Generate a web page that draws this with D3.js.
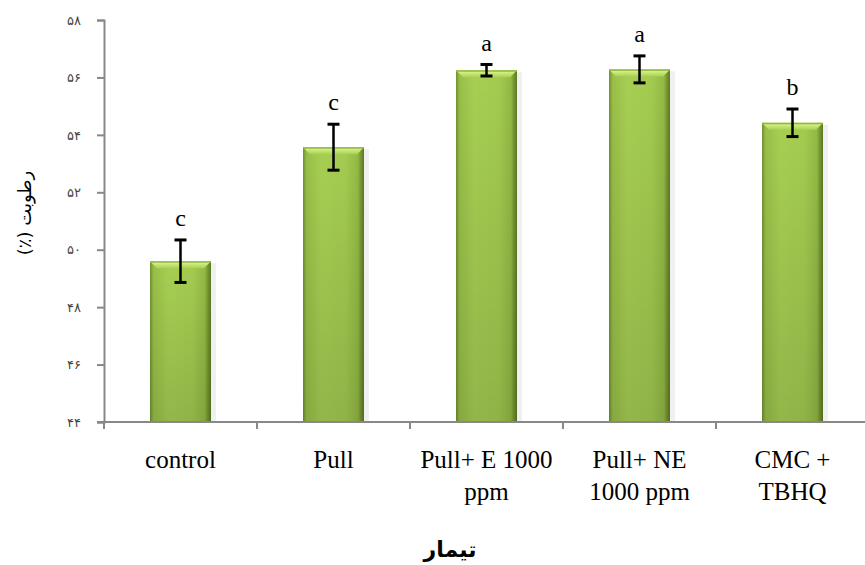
<!DOCTYPE html>
<html>
<head>
<meta charset="utf-8">
<script src="https://cdn.jsdelivr.net/npm/d3@7"></script>
<style>
  body { margin: 0; background: #fff; }
  svg { display: block; }
</style>
</head>
<body>
<div id="chart"></div>
<script>
const categories = ["control", "Pull", "Pull+ E 1000 ppm", "Pull+ NE 1000 ppm", "CMC + TBHQ"];
const labelLines = [["control"], ["Pull"], ["Pull+ E 1000", "ppm"], ["Pull+ NE", "1000 ppm"], ["CMC +", "TBHQ"]];
const means = [49.6, 53.57, 56.25, 56.28, 54.42];
const errors = [0.74, 0.8, 0.2, 0.47, 0.48];
const letters = ["c", "c", "a", "a", "b"];
const yTicks = [44, 46, 48, 50, 52, 54, 56, 58];

const width = 865;
const height = 565;
const margin = { top: 20, right: 0, bottom: 143, left: 104 };
const serif = "'Liberation Serif', 'Times New Roman', serif";

const toPersian = (n) => String(n).replace(/\d/g, (d) => "۰۱۲۳۴۵۶۷۸۹"[d]);

const svg = d3.select("#chart").append("svg").attr("width", width).attr("height", height);

const defs = svg.append("defs");
const side = defs.append("linearGradient").attr("id", "side").attr("x1", "0").attr("x2", "1").attr("y1", "0").attr("y2", "0");
[[0, "#6f9030"], [0.06, "#98bf48"], [0.3, "#a7cf53"], [0.7, "#a3cb50"], [0.9, "#93b944"], [0.94, "#7a9c35"], [1, "#5a7a22"]]
  .forEach(([o, c]) => side.append("stop").attr("offset", o).attr("stop-color", c));
const shade = defs.append("linearGradient").attr("id", "shade").attr("x1", "0").attr("x2", "0").attr("y1", "0").attr("y2", "1");
shade.append("stop").attr("offset", 0).attr("stop-color", "#000").attr("stop-opacity", 0);
shade.append("stop").attr("offset", 1).attr("stop-color", "#000").attr("stop-opacity", 0.12);
const bevel = defs.append("linearGradient").attr("id", "bevel").attr("x1", "0").attr("x2", "0").attr("y1", "0").attr("y2", "1");
bevel.append("stop").attr("offset", 0).attr("stop-color", "#e2fb93");
bevel.append("stop").attr("offset", 1).attr("stop-color", "#a9d054");

const x = d3.scaleBand().domain(categories).range([margin.left, margin.left + 5 * 153]).paddingInner(0).paddingOuter(0);
const y = d3.scaleLinear().domain([44, 58]).range([height - margin.bottom, margin.top]);
const barW = 61;

// bars
const bars = svg.selectAll("g.bar").data(categories).enter().append("g").attr("class", "bar");
bars.append("rect")
  .attr("x", (d) => x(d) + x.bandwidth() / 2 - barW / 2 + 2)
  .attr("y", (d, i) => y(means[i]) + 2)
  .attr("width", barW + 3)
  .attr("height", (d, i) => y(44) - y(means[i]) - 2)
  .attr("fill", "#000").attr("opacity", 0.06);
bars.append("rect")
  .attr("x", (d) => x(d) + x.bandwidth() / 2 - barW / 2)
  .attr("y", (d, i) => y(means[i]))
  .attr("width", barW)
  .attr("height", (d, i) => y(44) - y(means[i]))
  .attr("fill", "url(#side)");
bars.append("rect")
  .attr("x", (d) => x(d) + x.bandwidth() / 2 - barW / 2)
  .attr("y", (d, i) => y(means[i]))
  .attr("width", barW)
  .attr("height", (d, i) => y(44) - y(means[i]))
  .attr("fill", "url(#shade)");
bars.append("path")
  .attr("d", (d, i) => {
    const x0 = x(d) + x.bandwidth() / 2 - barW / 2, x1 = x0 + barW, t = y(means[i]);
    return `M${x0},${t}L${x1},${t}L${x1 - 7},${t + 7}L${x0 + 7},${t + 7}Z`;
  })
  .attr("fill", "url(#bevel)");
bars.append("rect")
  .attr("x", (d) => x(d) + x.bandwidth() / 2 - barW / 2)
  .attr("y", (d, i) => y(means[i]))
  .attr("width", barW)
  .attr("height", 1.5)
  .attr("fill", "#8fb640");

// error bars
const err = svg.selectAll("g.err").data(categories).enter().append("g").attr("class", "err")
  .attr("stroke", "#000");
err.append("line")
  .attr("x1", (d) => x(d) + x.bandwidth() / 2).attr("x2", (d) => x(d) + x.bandwidth() / 2)
  .attr("y1", (d, i) => y(means[i] + errors[i])).attr("y2", (d, i) => y(means[i] - errors[i]))
  .attr("stroke-width", 2.5);
[1, -1].forEach((s) => {
  err.append("line")
    .attr("x1", (d) => x(d) + x.bandwidth() / 2 - 6).attr("x2", (d) => x(d) + x.bandwidth() / 2 + 6)
    .attr("y1", (d, i) => y(means[i] + s * errors[i])).attr("y2", (d, i) => y(means[i] + s * errors[i]))
    .attr("stroke-width", 3);
});

// significance letters
svg.selectAll("text.letter").data(categories).enter().append("text")
  .attr("class", "letter")
  .attr("x", (d) => x(d) + x.bandwidth() / 2)
  .attr("y", (d, i) => y(means[i] + errors[i]) - 14)
  .attr("text-anchor", "middle")
  .style("font-family", serif)
  .attr("font-size", 24)
  .attr("fill", "#000")
  .text((d, i) => letters[i]);

// y axis
const yAxis = svg.append("g")
  .attr("transform", `translate(${margin.left},0)`)
  .call(d3.axisLeft(y).tickValues(yTicks).tickSize(7).tickPadding(16).tickFormat(toPersian));
yAxis.select(".domain").attr("stroke", "#888").attr("stroke-width", 2);
yAxis.selectAll(".tick line").attr("stroke", "#888").attr("stroke-width", 2);
yAxis.selectAll(".tick text").attr("font-family", "DejaVu Sans").attr("font-size", 13).attr("fill", "#444");

// x axis
const xAxisG = svg.append("g").attr("transform", `translate(0,${y(44)})`);
xAxisG.append("line").attr("x1", margin.left - 7).attr("x2", width).attr("y1", 0).attr("y2", 0)
  .attr("stroke", "#888").attr("stroke-width", 2);
xAxisG.selectAll("line.tick").data(categories).enter().append("line")
  .attr("class", "tick")
  .attr("x1", (d) => x(d)).attr("x2", (d) => x(d))
  .attr("y1", 0).attr("y2", 7)
  .attr("stroke", "#888").attr("stroke-width", 2);

const xl = svg.selectAll("text.xlab").data(categories).enter().append("text")
  .attr("class", "xlab")
  .attr("text-anchor", "middle")
  .style("font-family", serif)
  .attr("font-size", 25)
  .attr("fill", "#000");
xl.selectAll("tspan").data((d, i) => labelLines[i].map((t) => ({ t, c: d }))).enter().append("tspan")
  .attr("x", (d) => x(d.c) + x.bandwidth() / 2)
  .attr("y", (d, j) => y(44) + 46 + j * 32)
  .text((d) => d.t);

// axis titles
svg.append("text")
  .attr("x", 450).attr("y", 557)
  .attr("text-anchor", "middle")
  .attr("direction", "rtl")
  .attr("font-family", "DejaVu Sans")
  .attr("font-size", 22)
  .attr("font-weight", "bold")
  .attr("fill", "#000")
  .text("تیمار");

svg.append("text")
  .attr("transform", `translate(31,${213}) rotate(-90)`)
  .attr("text-anchor", "middle")
  .attr("direction", "rtl")
  .attr("font-family", "DejaVu Sans")
  .attr("font-size", 18)
  .attr("fill", "#000")
  .text("رطوبت (٪)");
</script>
</body>
</html>
